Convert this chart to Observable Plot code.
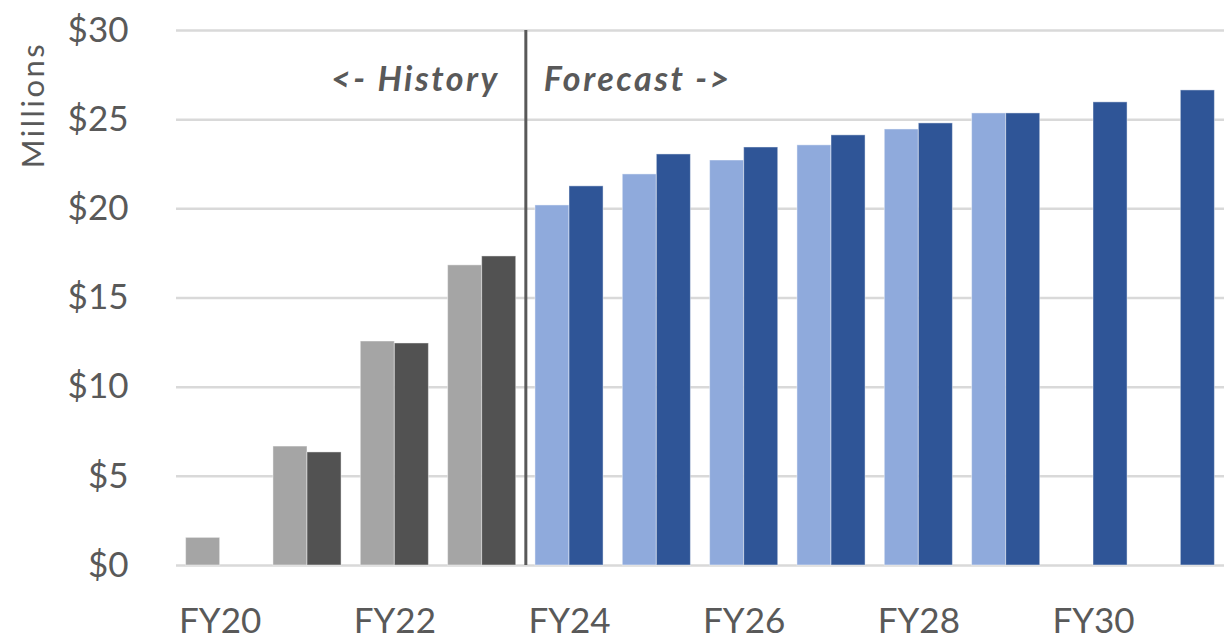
<!DOCTYPE html>
<html>
<head>
<meta charset="utf-8">
<script src="https://cdn.jsdelivr.net/npm/d3@7"></script>
<script src="https://cdn.jsdelivr.net/npm/@observablehq/plot@0.6"></script>
<style>
  html, body { margin: 0; padding: 0; background: #fff; overflow: hidden; }
  #chart { position: relative; width: 1224px; height: 643px; }
  #ylabel { position: absolute; left: 32px; top: 105px; transform: translate(-50%, -50%) rotate(-90deg);
    font-family: Lato, sans-serif; font-size: 31px; letter-spacing: 2.5px; color: #595959; white-space: nowrap; }
</style>
</head>
<body>
<div id="chart"><div id="ylabel">Millions</div></div>
<script>
// Fiscal years (FY20 .. FY31)
const years = [20, 21, 22, 23, 24, 25, 26, 27, 28, 29, 30, 31];
// Lighter bar of each pair ($ millions)
const lightValues = [1.55, 6.67, 12.56, 16.83, 20.19, 21.93, 22.71, 23.56, 24.45, 25.35, null, null];
// Darker bar of each pair ($ millions)
const darkValues = [null, 6.34, 12.45, 17.33, 21.26, 23.05, 23.44, 24.12, 24.79, 25.35, 25.97, 26.64];
const lastHistoryYear = 23;
const yTicks = [0, 5, 10, 15, 20, 25, 30];
const xTicks = [20, 22, 24, 26, 28, 30];
const annotations = ["<- History", "Forecast ->"];

const colors = {
  historyLight: "#a5a5a5", historyDark: "#525252",
  forecastLight: "#8faadc", forecastDark: "#2f5597"
};

const rows = [];
years.forEach((yr, i) => {
  const hist = yr <= lastHistoryYear;
  if (lightValues[i] != null) rows.push({year: yr, value: lightValues[i], side: -1,
    color: hist ? colors.historyLight : colors.forecastLight});
  if (darkValues[i] != null) rows.push({year: yr, value: darkValues[i], side: 1,
    color: hist ? colors.historyDark : colors.forecastDark});
});

const half = 0.39;
const divider = lastHistoryYear + 0.5;

const chart = Plot.plot({
  width: 1224,
  height: 643,
  marginLeft: 176,
  marginRight: 0,
  marginTop: 30,
  marginBottom: 78,
  style: {fontFamily: "Lato, sans-serif", color: "#595959", background: "#fff"},
  x: {domain: [years[0] - 0.5, years[years.length - 1] + 0.5], axis: null},
  y: {domain: [0, 30], axis: null},
  marks: [
    Plot.ruleY(yTicks, {stroke: "#d9d9d9", strokeWidth: 2.5}),
    Plot.rectY(rows, {
      x1: d => d.side < 0 ? d.year - half : d.year,
      x2: d => d.side < 0 ? d.year : d.year + half,
      y1: 0, y2: "value",
      fill: "color",
      stroke: "#ffffff", strokeOpacity: 0.45, strokeWidth: 1
    }),
    Plot.ruleX([divider], {stroke: "#595959", strokeWidth: 3}),
    Plot.text(yTicks, {x: years[0] - 0.5, y: d => d, text: d => "$" + d, textAnchor: "end", dx: -48,
      fontSize: 35, fill: "#595959"}),
    Plot.text(xTicks, {x: d => d, y: 0, text: d => "FY" + d, dy: 56,
      fontSize: 35, fill: "#595959"}),
    Plot.text([annotations[0]], {x: divider, y: 27.2, text: d => d, textAnchor: "end", dx: -26,
      fontSize: 34, fontWeight: "bold", fontStyle: "italic", fill: "#595959"}),
    Plot.text([annotations[1]], {x: divider, y: 27.2, text: d => d, textAnchor: "start", dx: 18,
      fontSize: 34, fontWeight: "bold", fontStyle: "italic", fill: "#595959"})
  ]
});
d3.select(chart).selectAll("text")
  .filter(function () { return annotations.includes(this.textContent); })
  .style("letter-spacing", "2.5px");
document.getElementById("chart").appendChild(chart);
</script>
</body>
</html>
